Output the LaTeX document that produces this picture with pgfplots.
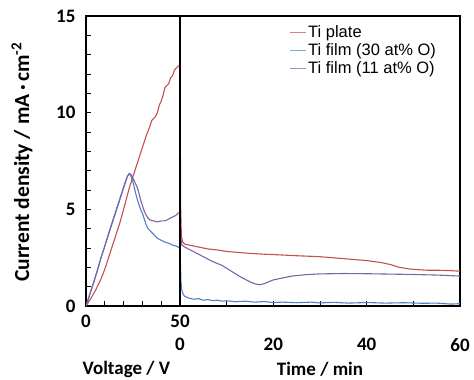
\documentclass[border=0pt]{standalone}
\usepackage{fontspec}
\setmainfont{Liberation Sans}
\newfontfamily\calibri{Carlito}
\usepackage{pgfplots}
\pgfplotsset{compat=1.18}
\definecolor{cRed}{HTML}{C4504C}
\definecolor{cBlue}{HTML}{5080BE}
\definecolor{cPurple}{HTML}{7B64A6}
\pgfplotsset{
  common/.style={
    scale only axis, height=290pt, ymin=0, ymax=15,
    axis line style={line width=1.6pt},
    tick align=inside, major tick length=5pt, minor tick length=5pt,
    every tick/.style={black, line width=0.8pt},
    /pgf/number format/assume math mode=true,
    ticklabel style={font=\calibri\bfseries\fontsize{19}{22}\selectfont},
    label style={font=\calibri\bfseries\fontsize{19}{22}\selectfont},
    xtick pos=left, ytick pos=left,
  }
}
\begin{document}
\begin{tikzpicture}
\useasboundingbox (-86pt,-74pt) rectangle (388pt,306pt);
\begin{axis}[common, at={(0pt,0pt)}, anchor=south west, width=94pt,
  xmin=0, xmax=50, xtick={0,50}, minor xtick={10,20,30,40},
  ytick={0,5,10,15}, minor ytick={1,2,3,4,6,7,8,9,11,12,13,14},
  xticklabel style={yshift=-6pt},
  yticklabel style={xshift=-7pt},
  xlabel={Voltage / V},
  xlabel style={at={(axis description cs:0.43,0)}, anchor=center, yshift=-63pt},
]
\addplot[cRed, line width=1.1pt] coordinates {
(0,0) (2,0.3) (5,0.8) (8,1.4) (10,1.9) (13,2.8) (15,3.4) (18,4.3) (20,5.0) (23,6.1) (25,6.7) (28,7.6) (30,8.2) (32,8.8) (34,9.3) (35,9.6) (36,9.7) (37,9.8) (38,10.0) (39,10.4) (40,10.6) (41,10.9) (42,11.3) (43,11.4) (44,11.5) (45,11.8) (46,11.9) (47,12.2) (48,12.3) (49,12.4) (50,12.5)
};
\addplot[cBlue, line width=1.1pt] coordinates {
(0,0) (2,0.6) (4,1.2) (6,1.8) (8,2.5) (10,3.1) (12,3.7) (14,4.3) (16,4.9) (18,5.5) (20,6.1) (21,6.4) (22,6.7) (23,6.85) (24,6.7) (25,6.4) (26,6.0) (27,5.6) (28,5.3) (29,5.0) (30,4.8) (31,4.5) (32,4.2) (33,4.0) (34,3.9) (36,3.7) (38,3.5) (40,3.4) (42,3.3) (44,3.25) (46,3.15) (48,3.1) (50,3.0)
};
\addplot[cPurple, line width=1.1pt] coordinates {
(0,0) (2,0.6) (4,1.2) (6,1.85) (8,2.5) (10,3.1) (12,3.75) (14,4.35) (16,4.95) (18,5.55) (20,6.15) (21,6.45) (22,6.7) (23,6.85) (24,6.8) (25,6.6) (26,6.4) (27,6.2) (28,5.9) (29,5.5) (30,5.2) (31,4.9) (32,4.7) (33,4.55) (34,4.45) (36,4.4) (38,4.35) (40,4.4) (42,4.4) (44,4.5) (46,4.6) (48,4.7) (49,4.8) (50,4.85)
};
\end{axis}
\node[rotate=90, anchor=center, font=\calibri\bfseries\fontsize{21.5}{24}\selectfont] at (-64pt,144pt) {Current density / mA\,·\,cm\textsuperscript{-2}};
\begin{axis}[common, at={(94pt,0pt)}, anchor=south west, width=280pt,
  xmin=0, xmax=60, xtick={0,20,40,60}, minor xtick={10,30,50},
  ytick=\empty,
  xticklabel style={yshift=-29pt},
  xlabel={Time / min},
  xlabel style={at={(axis description cs:0.5,0)}, anchor=center, yshift=-63pt},
  legend style={at={(axis description cs:0.39,0.975)}, anchor=north west, draw=none, fill=none,
    font=\fontsize{16.5}{19}\selectfont, inner sep=0pt, row sep=0.5pt,
    /tikz/every even column/.append style={column sep=0pt}},
  legend cell align=left,
  legend image code/.code={\draw[#1, line width=0.8pt, opacity=0.7] (0pt,0pt) -- (16pt,0pt);},
]
\addplot[cRed, line width=1.1pt] coordinates {
(0,12.4) (0.15,5) (0.3,3.6) (0.6,3.3) (1,3.2) (2,3.15) (4,3.05) (6,2.95) (8,2.9) (10,2.82) (12,2.78) (15,2.72) (18,2.68) (20,2.66) (25,2.6) (30,2.55) (35,2.45) (40,2.35) (43,2.25) (45,2.15) (47,2.0) (49,1.92) (51,1.88) (53,1.85) (55,1.85) (58,1.83) (60,1.8)
};
\addlegendentry{Ti plate}
\addplot[cBlue, line width=1.1pt] coordinates {
(0,3.0) (0.1,2.2) (0.2,1.3) (0.4,0.8) (0.7,0.6) (1,0.5) (1.5,0.45) (2,0.4) (3,0.35) (4,0.38) (5,0.3) (6,0.33) (7,0.28) (8,0.3) (9,0.25) (10,0.27) (12,0.22) (14,0.25) (16,0.2) (18,0.23) (20,0.18) (22,0.2) (25,0.17) (28,0.2) (30,0.16) (33,0.19) (36,0.15) (40,0.18) (44,0.15) (48,0.17) (52,0.14) (55,0.15) (58,0.1) (60,0.12)
};
\addlegendentry{Ti film (30 at\% O)}
\addplot[cPurple, line width=1.1pt] coordinates {
(0,4.85) (0.15,3.6) (0.4,3.15) (1,3.05) (3,2.8) (5,2.55) (7,2.3) (9,2.1) (11,1.8) (13,1.5) (15,1.25) (16,1.15) (17,1.1) (18,1.15) (19,1.25) (20,1.35) (22,1.45) (24,1.55) (27,1.62) (30,1.66) (35,1.68) (40,1.67) (45,1.65) (50,1.63) (55,1.6) (60,1.55)
};
\addlegendentry{Ti film (11 at\% O)}
\draw[black, line width=2.6pt] (rel axis cs:0,0) -- (rel axis cs:0,1);
\end{axis}
\end{tikzpicture}
\end{document}
